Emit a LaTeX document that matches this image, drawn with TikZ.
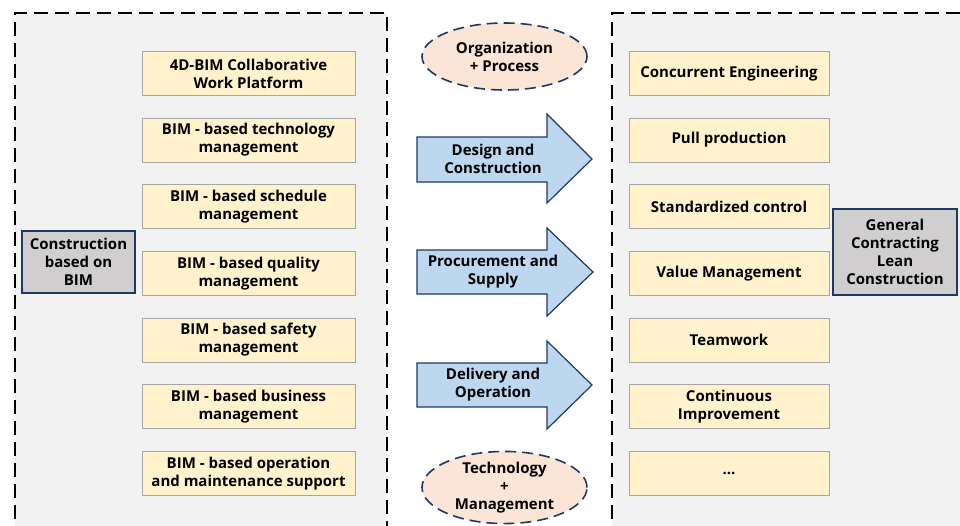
\documentclass[tikz,border=0pt]{standalone}
\usepackage{fontspec}
\setmainfont{Open Sans}
\usetikzlibrary{shapes.geometric}
\definecolor{ybg}{HTML}{FFF2CC}
\definecolor{ybd}{HTML}{A6A6A6}
\definecolor{gbg}{HTML}{D0CECE}
\definecolor{navy}{HTML}{203864}
\definecolor{abg}{HTML}{BDD7EE}
\definecolor{ebg}{HTML}{FBE5D6}
\definecolor{panel}{HTML}{F2F2F2}
\newcommand{\lblfont}{\bfseries\fontsize{15}{18}\selectfont}
\tikzset{
  ybox/.style={rectangle, fill=ybg, draw=ybd, line width=1pt, minimum height=44pt, inner sep=0pt, align=center, font=\lblfont},
  lbox/.style={ybox, minimum width=213pt},
  rbox/.style={ybox, minimum width=200pt},
  gbox/.style={rectangle, fill=gbg, draw=navy, line width=1.2pt, inner sep=0pt, align=center, font=\lblfont},
  oval/.style={ellipse, fill=ebg, draw=navy, line width=1.6pt, dash pattern=on 11pt off 6pt, minimum width=165pt, minimum height=67pt, inner sep=0pt, align=center, font=\lblfont},
  panelline/.style={draw=black, line width=2.5pt, dash pattern=on 14pt off 7pt},
  bigarrow/.style={fill=abg, draw=navy, line width=1.2pt, line join=miter},
  atext/.style={align=center, inner sep=0pt, font=\lblfont},
}
\begin{document}
\begin{tikzpicture}[x=1pt,y=-1pt]
\useasboundingbox (0,0) rectangle (960,525);
\clip (0,0) rectangle (960,525);
\fill[white] (0,0) rectangle (960,525);
% panels
\fill[panel] (15,13) rectangle (387,540);
\fill[panel] (612,13) rectangle (975,540);
\draw[panelline] (15,540) -- (15,13) -- (387,13) -- (387,540);
\draw[panelline] (612,540) -- (612,13) -- (975,13);
% left boxes
\node[lbox] (l1) at (248.5,73.5) {4D-BIM Collaborative\\Work Platform};
\node[lbox] (l2) at (248.5,140) {BIM - based technology\\management};
\node[lbox] (l3) at (248.5,206.7) {BIM - based schedule\\management};
\node[lbox] (l4) at (248.5,273.3) {BIM - based quality\\management};
\node[lbox] (l5) at (248.5,340) {BIM - based safety\\management};
\node[lbox] (l6) at (248.5,406.7) {BIM - based business\\management};
\node[lbox] (l7) at (248.5,473.3) {BIM - based operation\\and maintenance support};
\node[gbox, minimum width=113pt, minimum height=62pt] (cb) at (78.5,262) {Construction\\based on\\BIM};
% right boxes
\node[rbox] (r1) at (729,73.5) {Concurrent Engineering};
\node[rbox] (r2) at (729,140) {Pull production};
\node[rbox] (r3) at (729,206.7) {Standardized control};
\node[rbox] (r4) at (729,273.3) {Value Management};
\node[rbox] (r5) at (729,340) {Teamwork};
\node[rbox] (r6) at (729,406.7) {Continuous\\Improvement};
\node[rbox] (r7) at (729,473.3) {...};
\node[gbox, minimum width=124pt, minimum height=86pt] (gc) at (895,252) {General\\Contracting\\Lean\\Construction};
% ellipses
\node[oval] (e1) at (504.5,56.5) {Organization\\+ Process};
\node[oval, minimum height=69pt] (e2) at (504.5,487.5) {Technology\\+\\Management};
% arrows
\draw[bigarrow] (417,137) -- (547,137) -- (547,114) -- (592,159) -- (547,203) -- (547,182) -- (417,182) -- cycle;
\node[atext] (a1) at (493,159) {Design and\\Construction};
\draw[bigarrow] (417,250) -- (547,250) -- (547,228) -- (593,272) -- (547,316) -- (547,294) -- (417,294) -- cycle;
\node[atext] (a2) at (493,272) {Procurement and\\Supply};
\draw[bigarrow] (417,363) -- (547,363) -- (547,341) -- (592,385) -- (547,429) -- (547,407) -- (417,407) -- cycle;
\node[atext] (a3) at (493,385) {Delivery and\\Operation};
\end{tikzpicture}
\end{document}
